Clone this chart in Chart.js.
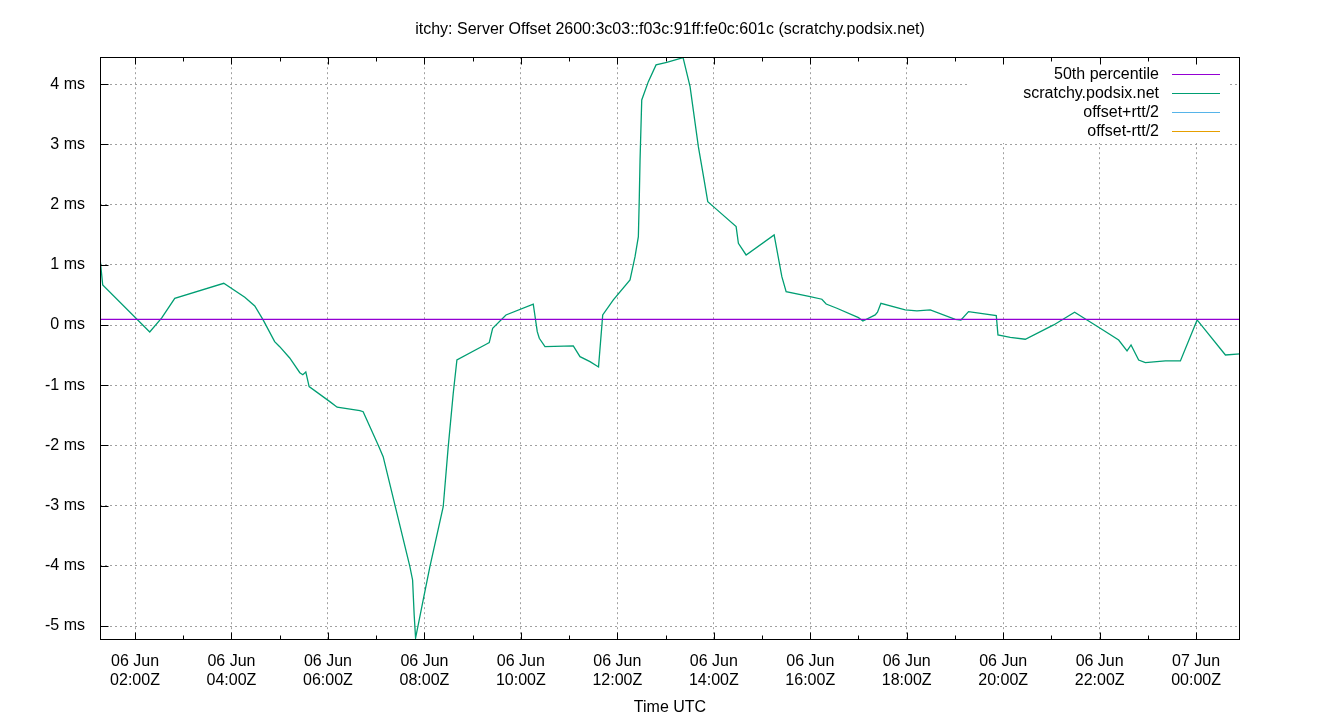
<!DOCTYPE html>
<html>
<head>
<meta charset="utf-8">
<script src="https://cdn.jsdelivr.net/npm/chart.js@4/dist/chart.umd.min.js"></script>
<style>
  html, body { margin: 0; padding: 0; background: #fff; }
  .wrap { width: 1340px; height: 720px; }
</style>
</head>
<body>
<div class="wrap"><canvas class="js-chart"></canvas></div>
<script>
const ctx = document.querySelector(".js-chart").getContext("2d");
const FONT = "'Liberation Sans', Arial, sans-serif";
const TITLE = "itchy: Server Offset 2600:3c03::f03c:91ff:fe0c:601c (scratchy.podsix.net)";

// ===== data (x = hours since 06 Jun 00:00Z, y = ms) =====
const hours = [
  1.274, 1.330, 2.305, 2.554, 2.824, 3.840, 4.276, 4.483, 4.656, 4.895,
  5.000, 5.207, 5.417, 5.479, 5.541, 5.610, 6.039, 6.191, 6.662, 6.730,
  7.041, 7.145, 7.699, 7.755, 7.788, 7.817, 7.975, 8.114, 8.390, 8.494,
  8.598, 8.674, 9.290, 9.344, 9.415, 9.691, 10.257, 10.340, 10.382, 10.500,
  11.087, 11.226, 11.433, 11.610, 11.697, 11.917, 12.263, 12.367, 12.436, 12.456,
  12.471, 12.506, 12.643, 12.803, 13.025, 13.363, 13.508, 13.680, 13.799, 13.875,
  13.992, 14.463, 14.510, 14.670, 15.251, 15.411, 15.500, 15.998, 16.241, 16.330,
  16.552, 17.000, 17.091, 17.346, 17.394, 17.465, 17.969, 18.212, 18.488, 19.006,
  19.124, 19.282, 19.857, 19.892, 20.147, 20.459, 21.046, 21.481, 22.012, 22.394,
  22.568, 22.651, 22.809, 22.948, 23.363, 23.674, 24.021, 24.608, 24.910
];
const offsetMs = [
  1.115, 0.666, -0.115, 0.118, 0.445, 0.694, 0.462, 0.317, 0.085, -0.276,
  -0.359, -0.547, -0.791, -0.824, -0.779, -1.023, -1.272, -1.365, -1.422, -1.439,
  -1.992, -2.186, -4.013, -4.234, -4.816, -5.198, -4.566, -4.013, -3.017, -2.020,
  -1.133, -0.580, -0.314, -0.292, -0.053, 0.168, 0.346, -0.110, -0.219, -0.359,
  -0.347, -0.525, -0.608, -0.696, 0.168, 0.417, 0.749, 1.136, 1.468, 2.133,
  2.743, 3.739, 4.043, 4.321, 4.365, 4.442, 3.960, 2.963, 2.410, 2.050,
  1.967, 1.635, 1.359, 1.164, 1.497, 0.804, 0.555, 0.472, 0.429, 0.350,
  0.279, 0.123, 0.068, 0.168, 0.213, 0.362, 0.251, 0.234, 0.251, 0.096,
  0.085, 0.223, 0.156, -0.164, -0.203, -0.236, 0.002, 0.213, -0.053, -0.248,
  -0.430, -0.331, -0.580, -0.625, -0.596, -0.596, 0.085, -0.497, -0.480
];
const MEDIAN_MS = 0.096;

const X_MIN = 1.274;
const X_MAX = 24.91;
const Y_MIN = -5.231;
const Y_MAX = 4.449;

const X_TICK_HOURS = [2, 4, 6, 8, 10, 12, 14, 16, 18, 20, 22, 24];
const X_TICK_LABELS = [
  ["06 Jun", "02:00Z"], ["06 Jun", "04:00Z"], ["06 Jun", "06:00Z"], ["06 Jun", "08:00Z"],
  ["06 Jun", "10:00Z"], ["06 Jun", "12:00Z"], ["06 Jun", "14:00Z"], ["06 Jun", "16:00Z"],
  ["06 Jun", "18:00Z"], ["06 Jun", "20:00Z"], ["06 Jun", "22:00Z"], ["07 Jun", "00:00Z"]
];
const X_MINOR_HOURS = [3, 5, 7, 9, 11, 13, 15, 17, 19, 21, 23];
const Y_TICKS = [-5, -4, -3, -2, -1, 0, 1, 2, 3, 4];

const SERIES_NAMES = ["50th percentile", "scratchy.podsix.net", "offset+rtt/2", "offset-rtt/2"];
const SERIES_COLORS = ["#9400d3", "#009e73", "#56b4e9", "#e69f00"];

// ===== gnuplot-ish frame, inward ticks and key =====
const gnuplotBits = {
  id: "gnuplotBits",
  afterDatasetsDraw(chart) {
    const { ctx, chartArea: a, scales } = chart;
    const L = Math.round(a.left) + 0.5, R = Math.round(a.right) - 0.5;
    const T = Math.round(a.top) + 0.5, B = Math.round(a.bottom) - 0.5;
    ctx.save();

    // key box (opaque)
    ctx.fillStyle = "#fff";
    ctx.fillRect(970, a.top + 1, 257, 142 - a.top);

    // frame
    ctx.strokeStyle = "#000";
    ctx.lineWidth = 1;
    ctx.strokeRect(L, T, R - L, B - T);

    ctx.beginPath();
    const tick = (h, len) => {
      const x = Math.round(scales.x.getPixelForValue(h)) + 0.5;
      ctx.moveTo(x, B); ctx.lineTo(x, B - len);
      ctx.moveTo(x, T); ctx.lineTo(x, T + len);
    };
    X_TICK_HOURS.forEach((h) => tick(h, 7));
    X_MINOR_HOURS.forEach((h) => tick(h, 4));
    Y_TICKS.forEach((v) => {
      const y = Math.round(scales.y.getPixelForValue(v)) + 0.5;
      ctx.moveTo(L, y); ctx.lineTo(L + 8, y);
    });
    ctx.stroke();

    // key entries
    ctx.font = "16px " + FONT;
    ctx.textAlign = "right";
    ctx.textBaseline = "middle";
    chart.data.datasets.forEach((ds, i) => {
      const y = 75 + i * 19;
      ctx.fillStyle = "#000";
      ctx.fillText(ds.label, 1159, y);
      ctx.strokeStyle = ds.borderColor;
      ctx.beginPath();
      ctx.moveTo(1172, y - 0.5);
      ctx.lineTo(1220, y - 0.5);
      ctx.stroke();
    });
    ctx.restore();
  },
};

new Chart(ctx, {
  type: "line",
  data: {
    datasets: [
      {
        label: SERIES_NAMES[0],
        data: [{ x: X_MIN, y: MEDIAN_MS }, { x: X_MAX, y: MEDIAN_MS }],
        borderColor: SERIES_COLORS[0],
        borderWidth: 1.2,
        order: 0,
      },
      {
        label: SERIES_NAMES[1],
        data: hours.map((h, i) => ({ x: h, y: offsetMs[i] })),
        borderColor: SERIES_COLORS[1],
        borderWidth: 1.3,
        order: 1,
      },
      { label: SERIES_NAMES[2], data: [], borderColor: SERIES_COLORS[2], order: 2 },
      { label: SERIES_NAMES[3], data: [], borderColor: SERIES_COLORS[3], order: 3 },
    ],
  },
  options: {
    responsive: true,
    maintainAspectRatio: false,
    animation: false,
    layout: { padding: 0 },
    elements: { point: { radius: 0 }, line: { tension: 0 } },
    plugins: {
      legend: { display: false },
      tooltip: { enabled: false },
      title: {
        display: true,
        text: TITLE,
        color: "#000",
        font: { family: FONT, size: 16, weight: "normal" },
        padding: { top: 20, bottom: 18 },
      },
    },
    scales: {
      x: {
        type: "linear",
        position: "bottom",
        min: X_MIN,
        max: X_MAX,
        afterBuildTicks(scale) {
          scale.ticks = X_TICK_HOURS.map((v) => ({ value: v }));
        },
        afterFit(scale) {
          scale.height = 80;
        },
        grid: { color: "#a0a0a0", lineWidth: 1, drawTicks: false },
        border: { display: false, dash: [2, 3] },
        ticks: {
          autoSkip: false,
          maxRotation: 0,
          padding: 12,
          color: "#000",
          font: { family: FONT, size: 16 },
          callback(value) {
            const i = X_TICK_HOURS.indexOf(value);
            return i >= 0 ? X_TICK_LABELS[i] : "";
          },
        },
        title: {
          display: true,
          text: "Time UTC",
          color: "#000",
          font: { family: FONT, size: 16 },
          padding: { top: 0, bottom: 3 },
        },
      },
      y: {
        position: "left",
        min: Y_MIN,
        max: Y_MAX,
        afterBuildTicks(scale) {
          scale.ticks = Y_TICKS.map((v) => ({ value: v }));
        },
        afterFit(scale) {
          scale.width = 100;
        },
        grid: { color: "#a0a0a0", lineWidth: 1, drawTicks: false },
        border: { display: false, dash: [2, 3] },
        ticks: {
          padding: 15,
          color: "#000",
          font: { family: FONT, size: 16 },
          callback(value) {
            return value + " ms";
          },
        },
      },
      yRight: {
        position: "right",
        display: true,
        afterFit(scale) {
          scale.width = 100;
        },
        grid: { display: false, drawOnChartArea: false },
        border: { display: false },
        ticks: { display: false },
      },
    },
  },
  plugins: [gnuplotBits],
});
</script>
</body>
</html>
